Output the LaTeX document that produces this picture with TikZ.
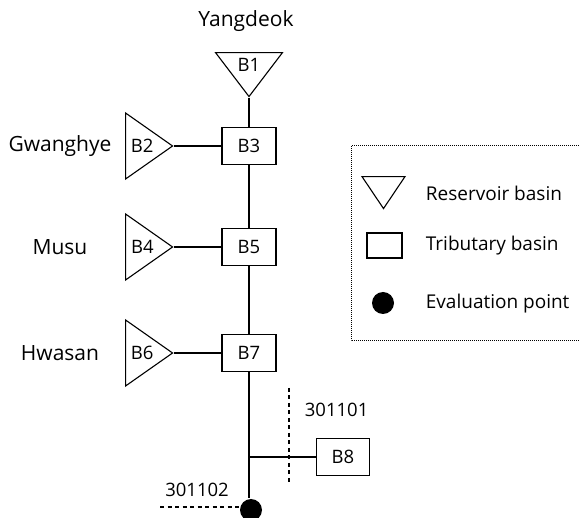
\documentclass[tikz,border=0pt]{standalone}
\usepackage{fontspec}
\setmainfont{Open Sans}
\usetikzlibrary{shapes.geometric,positioning}

\tikzset{
  reservoir/.style={isosceles triangle, isosceles triangle stretches, draw, inner sep=0pt,
    minimum height=47pt, minimum width=66pt},
  tributary/.style={rectangle, draw, inner sep=0pt, minimum width=54pt, minimum height=37pt},
  evalpt/.style={circle, fill=black, inner sep=0pt, minimum size=22pt},
  gauge/.style={dash pattern=on 4pt off 3.5pt},
  basinname/.style={font=\fontsize{21}{24}\selectfont},
  legtext/.style={anchor=west, font=\fontsize{19}{22}\selectfont}
}

\begin{document}
\begin{tikzpicture}[x=1pt,y=-1pt,line width=1.1pt,font=\fontsize{18.5}{21}\selectfont]
\useasboundingbox (0,0) rectangle (579,518);

% Reservoir basins
\node[reservoir, shape border rotate=-90, minimum height=44pt, minimum width=67pt, anchor=apex] (B1) at (249,98) {B1};
\node[reservoir, anchor=apex] (B2) at (174,146) {B2};
\node[reservoir, anchor=apex] (B4) at (174,247) {B4};
\node[reservoir, anchor=apex] (B6) at (174,353) {B6};

% Tributary basins
\node[tributary] (B3) at (249,146) {B3};
\node[tributary] (B5) at (249,247) {B5};
\node[tributary] (B7) at (249,353) {B7};
\node[tributary, minimum width=53pt] (B8) at (343,457) {B8};

% Evaluation point
\node[evalpt] (ev) at (251,510) {};

% Names
\node[basinname] (yangdeok) at (246,21) {Yangdeok};
\node[basinname] (gwanghye) at (60,146) {Gwanghye};
\node[basinname] (musu) at (60,247) {Musu};
\node[basinname] (hwasan) at (60,353) {Hwasan};

% Links
\draw (B1.apex) -- (B3.north);
\draw (B2.apex) -- (B3.west);
\draw (B3.south) -- (B5.north);
\draw (B4.apex) -- (B5.west);
\draw (B5.south) -- (B7.north);
\draw (B6.apex) -- (B7.west);
\draw (B7.south) -- (B7.south |- ev.north);
\coordinate (j8) at (B7.south |- B8.west);
\draw (j8) -- (B8.west);

% Gauges
\coordinate (g1top) at (289,388);
\coordinate (g1bot) at (289,483);
\draw[gauge] (g1top) -- (g1bot);
\node[anchor=west] (g1) at (301,410) {301101};
\coordinate (g2end) at (160,507);
\draw[gauge] (g2end) -- (ev.west |- g2end);
\node (g2) at (197,490) {301102};

% Legend
\draw[line width=1pt, dash pattern=on 1pt off 1pt] (351,146) rectangle (600,341);
\node[reservoir, shape border rotate=-90, minimum height=32pt, minimum width=43pt, anchor=apex] (legres) at (383.5,210) {};
\node[legtext] (legrestxt) at (422,193) {Reservoir basin};
\node[tributary, minimum width=35pt, minimum height=25pt] (legtrib) at (384.5,245.5) {};
\node[legtext] (legtribtxt) at (422,246) {Tributary basin};
\node[evalpt] (legev) at (383,303) {};
\node[legtext] (legevtxt) at (422,304) {Evaluation point};

\end{tikzpicture}
\end{document}
